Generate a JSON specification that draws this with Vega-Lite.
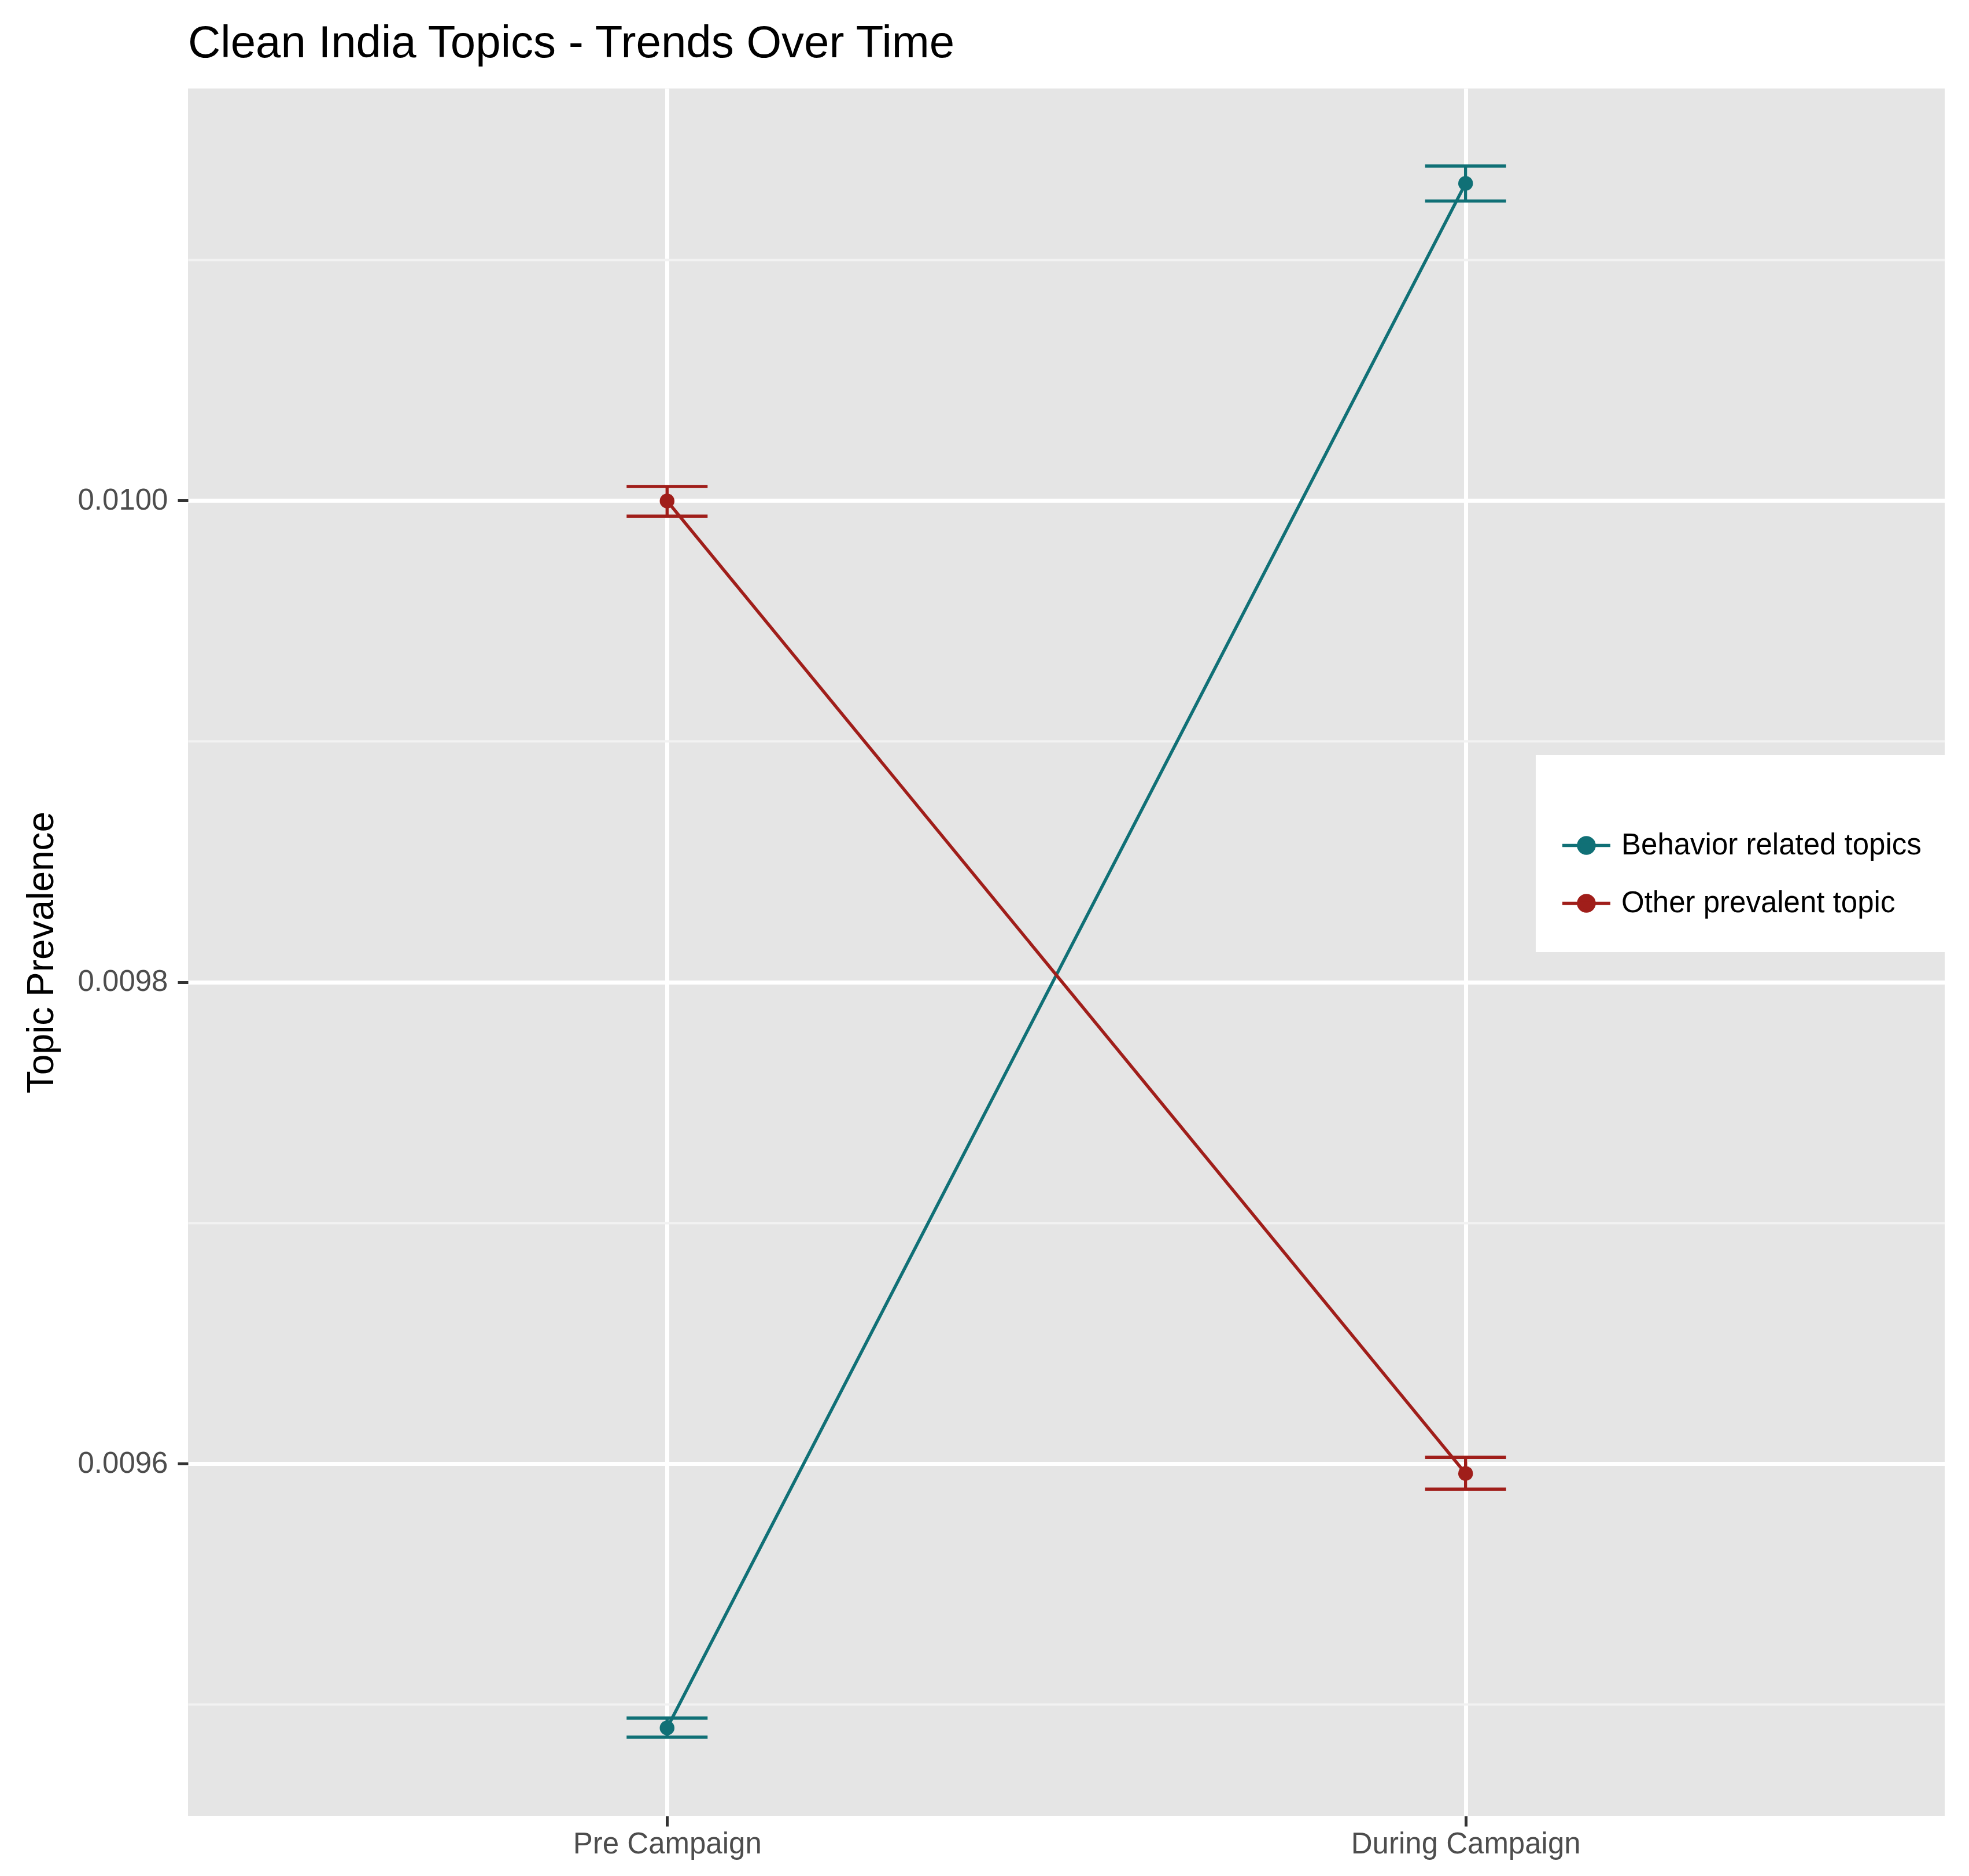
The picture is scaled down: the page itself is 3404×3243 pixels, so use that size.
{
  "$schema": "https://vega.github.io/schema/vega-lite/v6.json",
  "width": 3037,
  "height": 2986,
  "autosize": {"type": "none"},
  "padding": {"left": 325, "top": 153, "right": 42, "bottom": 104},
  "background": "#FFFFFF",
  "title": {
    "text": "Clean India Topics - Trends Over Time",
    "anchor": "start",
    "frame": "group",
    "fontSize": 78,
    "font": "Liberation Sans",
    "fontWeight": "normal",
    "color": "#000000",
    "baseline": "alphabetic",
    "offset": -24,
    "limit": 0
  },
  "config": {
    "view": {"fill": "#E5E5E5", "stroke": null},
    "font": "Liberation Sans"
  },
  "data": {
    "values": [
      {"period": "Pre Campaign", "topic": "Behavior related topics", "mean": 0.0094902, "lo": 0.0094864, "hi": 0.0094943},
      {"period": "During Campaign", "topic": "Behavior related topics", "mean": 0.0101317, "lo": 0.0101244, "hi": 0.0101389},
      {"period": "Pre Campaign", "topic": "Other prevalent topic", "mean": 0.0099998, "lo": 0.0099935, "hi": 0.0100058},
      {"period": "During Campaign", "topic": "Other prevalent topic", "mean": 0.0095959, "lo": 0.0095894, "hi": 0.0096026}
    ]
  },
  "encoding": {
    "x": {
      "field": "period",
      "type": "nominal",
      "sort": ["Pre Campaign", "During Campaign"],
      "scale": {"type": "point", "padding": 0.6},
      "axis": {
        "title": null,
        "grid": true,
        "gridColor": "#FFFFFF",
        "gridWidth": 7,
        "domain": false,
        "tickColor": "#333333",
        "tickSize": 18,
        "tickWidth": 5,
        "labelFontSize": 51,
        "labelColor": "#4D4D4D",
        "labelFont": "Liberation Sans",
        "labelPadding": 6,
        "labelAngle": 0,
        "labelLimit": 0
      }
    },
    "color": {
      "field": "topic",
      "type": "nominal",
      "scale": {
        "domain": ["Behavior related topics", "Other prevalent topic"],
        "range": ["#107076", "#A01E1A"]
      },
      "legend": {
        "title": " ",
        "orient": "none",
        "legendX": 2330,
        "legendY": 1152,
        "fillColor": "#FFFFFF",
        "padding": 59,
        "titleFontSize": 51,
        "titlePadding": 2,
        "labelFontSize": 51,
        "labelColor": "#000000",
        "labelFont": "Liberation Sans",
        "labelLimit": 0,
        "symbolType": "M-1,0L1,0M-0.325,0A0.325,0.325,0,1,0,0.325,0A0.325,0.325,0,1,0,-0.325,0Z",
        "symbolSize": 6889,
        "symbolStrokeWidth": 5.5,
        "symbolOpacity": 1,
        "symbolOffset": -16,
        "labelOffset": 16,
        "rowPadding": 30,
        "encode": {
          "symbols": {
            "update": {
              "fill": {"scale": "color", "field": "value"},
              "stroke": {"scale": "color", "field": "value"}
            }
          }
        }
      }
    }
  },
  "layer": [
    {
      "mark": {"type": "line", "strokeWidth": 5.5},
      "encoding": {
        "y": {
          "field": "mean",
          "type": "quantitative",
          "title": "Topic Prevalence",
          "scale": {"domain": [0.0094537, 0.0101711], "nice": false, "zero": false},
          "axis": {
            "values": [0.0095, 0.0096, 0.0097, 0.0098, 0.0099, 0.01, 0.0101],
            "labelExpr": "round(datum.value*10000)%2==0 ? format(datum.value,'.4f') : ''",
            "labelOverlap": false,
            "labelLimit": 0,
            "grid": true,
            "gridColor": {"condition": {"test": "round(datum.value*10000)%2==0", "value": "#FFFFFF"}, "value": "#F2F2F2"},
            "gridWidth": {"condition": {"test": "round(datum.value*10000)%2==0", "value": 7}, "value": 4},
            "tickOpacity": {"condition": {"test": "round(datum.value*10000)%2==0", "value": 1}, "value": 0},
            "tickColor": "#333333",
            "tickSize": 18,
            "tickWidth": 5,
            "domain": false,
            "labelFontSize": 51,
            "labelColor": "#4D4D4D",
            "labelFont": "Liberation Sans",
            "labelPadding": 17,
            "titleFontSize": 64,
            "titleColor": "#000000",
            "titleFont": "Liberation Sans",
            "titleFontWeight": "normal",
            "titlePadding": 30
          }
        }
      }
    },
    {
      "mark": {"type": "rule", "strokeWidth": 5.5},
      "encoding": {
        "y": {"field": "lo", "type": "quantitative", "title": "Topic Prevalence"},
        "y2": {"field": "hi"}
      }
    },
    {
      "mark": {"type": "tick", "size": 140, "thickness": 5.5, "orient": "horizontal", "opacity": 1},
      "encoding": {
        "y": {"field": "lo", "type": "quantitative", "title": "Topic Prevalence"}
      }
    },
    {
      "mark": {"type": "tick", "size": 140, "thickness": 5.5, "orient": "horizontal", "opacity": 1},
      "encoding": {
        "y": {"field": "hi", "type": "quantitative", "title": "Topic Prevalence"}
      }
    },
    {
      "mark": {"type": "point", "filled": true, "size": 650, "opacity": 1},
      "encoding": {
        "y": {"field": "mean", "type": "quantitative", "title": "Topic Prevalence"}
      }
    }
  ]
}
